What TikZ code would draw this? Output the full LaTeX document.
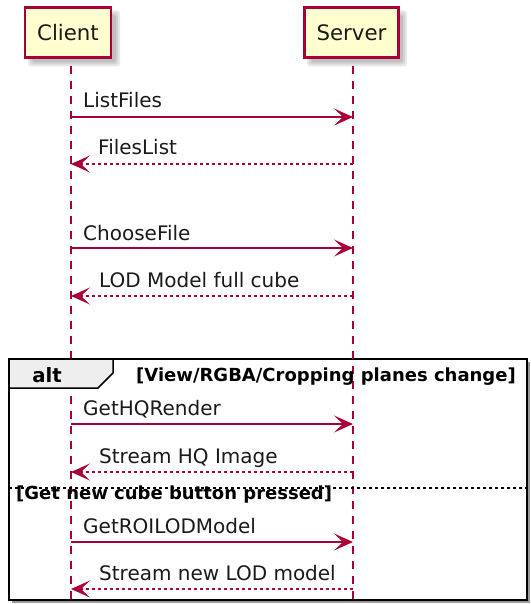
\documentclass[tikz,border=0pt]{standalone}
\usepackage{fontspec}
\setmainfont{DejaVu Sans}
\usetikzlibrary{arrows.meta}
\definecolor{puml}{HTML}{A80036}
\definecolor{pfill}{HTML}{FEFECE}
\definecolor{tabfill}{HTML}{EEEEEE}
\definecolor{txt}{HTML}{1A1A1A}
\begin{document}
\begin{tikzpicture}[x=1pt,y=-1pt,
  partbox/.style={draw=puml, fill=pfill, line width=2.2pt, minimum width=#1,
    minimum height=50pt, inner sep=0pt, text=txt, font=\fontsize{21.3}{25}\selectfont},
  lifeline/.style={draw=puml, line width=1.5pt, dash pattern=on 8pt off 7pt},
  call/.style={draw=puml, line width=1.5pt,
    -{Stealth[length=19pt,width=17pt,inset=9pt,fill=puml]}},
  reply/.style={call, dash pattern=on 3pt off 3pt},
  msglabel/.style={anchor=base west, inner sep=0pt, text=txt, font=\fontsize{20}{24}\selectfont},
  guard/.style={inner sep=0pt, font=\fontsize{18}{22}\bfseries\selectfont},
  shadowbox/.style={fill=black, opacity=0.09, rounded corners=3pt}
]
\useasboundingbox (0,0) rectangle (530,604);
\fill[white] (0,0) rectangle (530,604);

% alt frame with shadow (right and bottom only)
\draw[black!40, line width=2pt] (529,362) -- (529,602) -- (12,602);
\draw[black, line width=2pt] (9,359) rectangle (527,600);

% lifelines
\coordinate (clT) at (71,66);
\coordinate (clB) at (71,604);
\coordinate (svT) at (353,66);
\coordinate (svB) at (353,604);
\draw[lifeline] (clT) -- (clB);
\draw[lifeline] (svT) -- (svB);

% participant shadows
\foreach \e in {-1,1,3} {
  \fill[shadowbox] (31-\e,13.5-\e) rectangle (117+\e,63.5+\e);
  \fill[shadowbox] (310-\e,13.5-\e) rectangle (404+\e,63.5+\e);
}
\node[partbox=86pt] (client) at (68,32.5) {Client};
\node[partbox=94pt] (server) at (351.5,32.5) {Server};

% alt tab and guards
\draw[black, line width=1.5pt, fill=tabfill] (9,359) -- (113,359) -- (113,373) -- (98,388) -- (9,388) -- cycle;
\draw[black, line width=2pt] (9,359) -- (113,359);
\node[guard, anchor=base, font=\fontsize{19.7}{24}\bfseries\selectfont] (alt) at (47,382) {alt};
\node[guard, anchor=base east] (g1) at (516,381) {[View/RGBA/Cropping planes change]};
\draw[black, line width=1.5pt, dash pattern=on 3pt off 3pt] (9,488) -- (527,488);
\node[guard, anchor=base west] (g2) at (16,499) {[Get new cube button pressed]};

% messages
\coordinate (c1) at (71,117); \coordinate (s1) at (353,117);
\draw[call] (c1) -- (s1);
\node[msglabel] (m1) at (83,108) {ListFiles};

\coordinate (c2) at (71,164); \coordinate (s2) at (353,164);
\draw[reply] (s2) -- (c2);
\node[msglabel] (m2) at (98,155) {FilesList};

\coordinate (c3) at (71,248); \coordinate (s3) at (353,248);
\draw[call] (c3) -- (s3);
\node[msglabel] (m3) at (83,240) {ChooseFile};

\coordinate (c4) at (71,296); \coordinate (s4) at (353,296);
\draw[reply] (s4) -- (c4);
\node[msglabel] (m4) at (99,287) {LOD Model full cube};

\coordinate (c5) at (71,424); \coordinate (s5) at (353,424);
\draw[call] (c5) -- (s5);
\node[msglabel] (m5) at (83,415) {GetHQRender};

\coordinate (c6) at (71,472); \coordinate (s6) at (353,472);
\draw[reply] (s6) -- (c6);
\node[msglabel] (m6) at (99,463) {Stream HQ Image};

\coordinate (c7) at (71,542); \coordinate (s7) at (353,542);
\draw[call] (c7) -- (s7);
\node[msglabel] (m7) at (83,533) {GetROILODModel};

\coordinate (c8) at (71,589); \coordinate (s8) at (353,589);
\draw[reply] (s8) -- (c8);
\node[msglabel] (m8) at (99,580) {Stream new LOD model};
\end{tikzpicture}
\end{document}
